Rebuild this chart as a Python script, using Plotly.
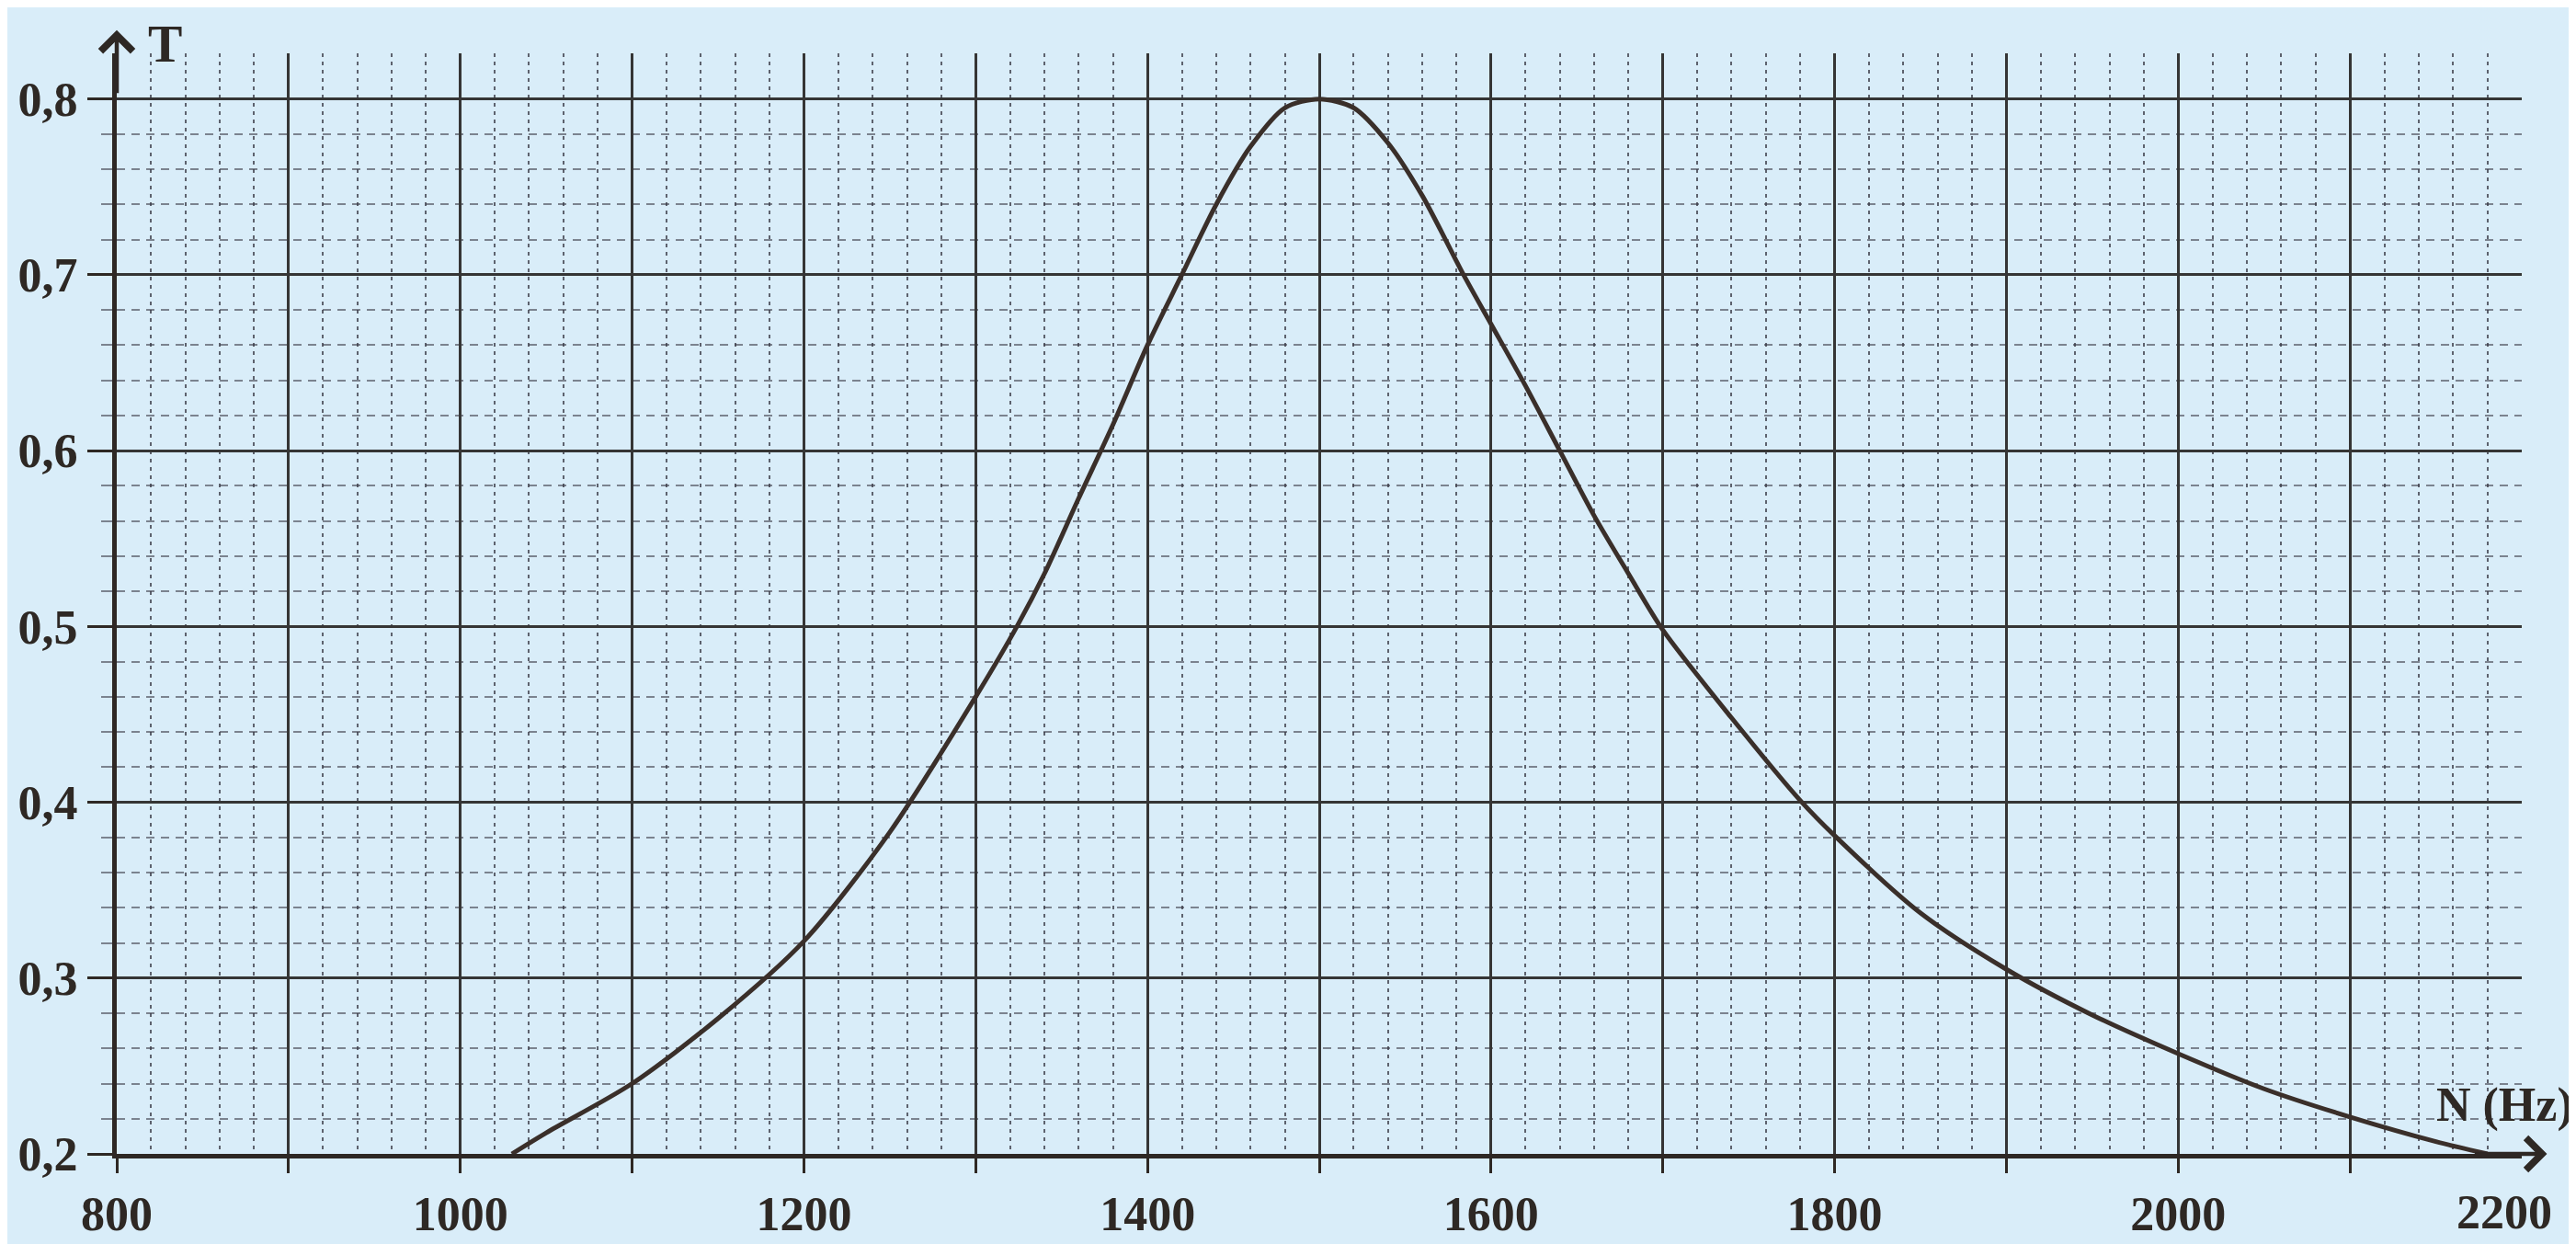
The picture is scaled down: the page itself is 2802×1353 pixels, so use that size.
import plotly.graph_objects as go

# ---- data ----
freq_hz = [1030, 1050, 1100, 1150, 1200, 1250, 1300, 1324, 1340, 1360, 1380, 1400,
           1420, 1440, 1460, 1480, 1500, 1520, 1540, 1560, 1584, 1600, 1620, 1640,
           1660, 1680, 1700, 1740, 1780, 1800, 1850, 1900, 1950, 2000, 2050, 2100,
           2150, 2180]
transmission = [0.200, 0.212, 0.240, 0.277, 0.321, 0.383, 0.460, 0.500, 0.530, 0.573,
                0.615, 0.660, 0.700, 0.740, 0.773, 0.795, 0.800, 0.795, 0.775, 0.745,
                0.700, 0.672, 0.637, 0.600, 0.563, 0.530, 0.498, 0.448, 0.401, 0.381,
                0.337, 0.305, 0.279, 0.257, 0.237, 0.221, 0.207, 0.200]

x_tickvals = [800, 900, 1000, 1100, 1200, 1300, 1400, 1500, 1600, 1700, 1800,
              1900, 2000, 2100]
x_ticktext = ["800", "", "1000", "", "1200", "", "1400", "", "1600", "", "1800",
              "", "2000", ""]
x_end_label = "2200"
y_tickvals = [0.2, 0.3, 0.4, 0.5, 0.6, 0.7, 0.8]
y_ticktext = ["0,2", "0,3", "0,4", "0,5", "0,6", "0,7", "0,8"]
x_title = "N (Hz)"
y_title = "T"

# ---- style ----
BG = "#d9edf9"
INK = "#2e2824"
FONT = "Liberation Serif"

y_minor_vals = [round(0.2 + 0.02 * i, 2) for i in range(31) if (i % 5) != 0]

fig = go.Figure()
fig.add_trace(go.Scatter(
    x=freq_hz, y=transmission, mode="lines",
    line=dict(color="#3a2f2a", width=5, shape="spline", smoothing=0.8),
    hoverinfo="x+y", showlegend=False,
))

fig.update_layout(
    width=2802, height=1353,
    paper_bgcolor=BG, plot_bgcolor=BG,
    margin=dict(l=116, r=67, t=50, b=88),
    font=dict(family=FONT, color=INK),
    xaxis=dict(
        range=[800, 2200], tickmode="array", tickvals=x_tickvals, ticktext=x_ticktext,
        showgrid=True, gridcolor="#353535", gridwidth=2.5,
        showline=True, linecolor=INK, linewidth=5,
        ticks="outside", ticklen=16, tickwidth=2.5, tickcolor=INK,
        tickfont=dict(family=FONT, size=52, color=INK, weight="bold"),
        zeroline=False, fixedrange=True,
        minor=dict(tickmode="linear", tick0=800, dtick=20, showgrid=True,
                   gridcolor="rgba(45,45,55,0.72)", gridwidth=2, griddash="4px,5px",
                   ticks=""),
    ),
    yaxis=dict(
        range=[0.2, 0.826], tickmode="array", tickvals=y_tickvals, ticktext=y_ticktext,
        showgrid=True, gridcolor="#353535", gridwidth=2.5,
        showline=True, linecolor=INK, linewidth=5,
        ticks="outside", ticklen=27, tickwidth=2.5, tickcolor=INK,
        tickfont=dict(family=FONT, size=52, color=INK, weight="bold"),
        zeroline=False, fixedrange=True,
        minor=dict(tickmode="array", tickvals=y_minor_vals, showgrid=True,
                   gridcolor="rgba(60,60,72,0.6)", gridwidth=1.8, griddash="9px,7px",
                   ticks="outside", ticklen=12, tickwidth=1.5,
                   tickcolor="rgba(60,60,72,0.6)"),
    ),
    annotations=[
        # y-axis arrow
        dict(xref="paper", yref="paper", x=0, y=1.021, ax=0, ay=70,
             axref="pixel", ayref="pixel", showarrow=True, arrowhead=4,
             arrowsize=1.5, arrowwidth=4.5, arrowcolor=INK, text=""),
        # x-axis arrow
        dict(xref="paper", yref="paper", x=1.0105, y=0, ax=-80, ay=0,
             axref="pixel", ayref="pixel", showarrow=True, arrowhead=4,
             arrowsize=1.5, arrowwidth=4.5, arrowcolor=INK, text=""),
        # last x tick label (no grid line at the right edge in the reference)
        dict(xref="x", yref="paper", x=2190, y=0, yshift=-33, xanchor="center",
             yanchor="top", showarrow=False, text=x_end_label,
             font=dict(family=FONT, size=52, color=INK, weight="bold")),
        dict(xref="paper", yref="paper", x=0.0199, y=1.008, xanchor="center",
             yanchor="middle", showarrow=False, text=y_title,
             font=dict(family=FONT, size=56, color=INK, weight="bold")),
        dict(xref="paper", yref="paper", x=0.993, y=0.044, xanchor="center",
             yanchor="middle", showarrow=False, text=x_title,
             font=dict(family=FONT, size=52, color=INK, weight="bold")),
    ],
)

fig.write_html("out.html")
